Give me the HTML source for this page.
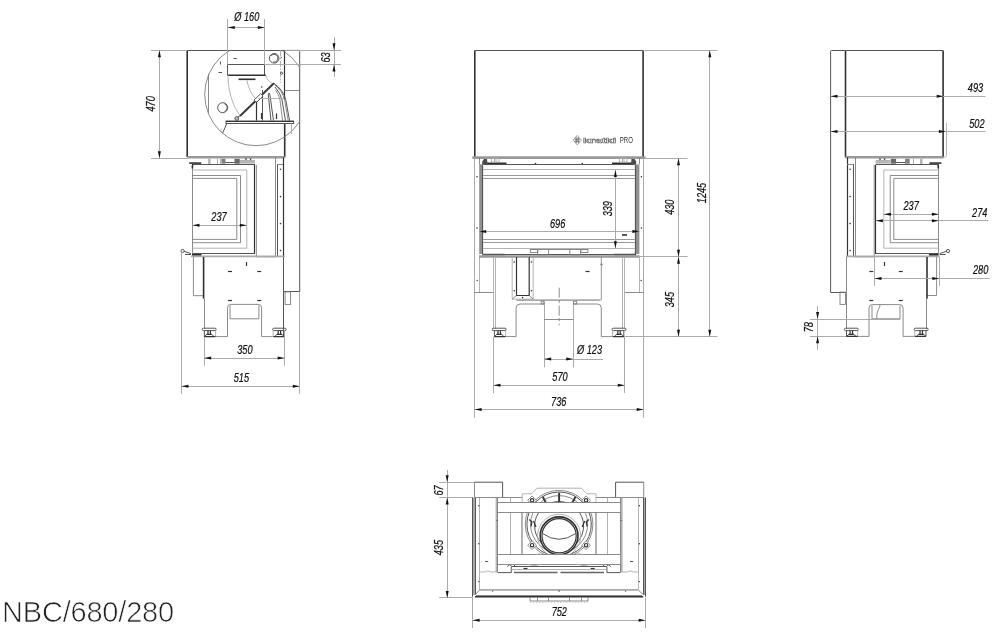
<!DOCTYPE html>
<html><head><meta charset="utf-8"><title>NBC/680/280</title>
<style>
html,body{margin:0;padding:0;background:#fff;}
body{width:999px;height:639px;overflow:hidden;position:relative;font-family:"Liberation Sans",sans-serif;}
svg{position:absolute;left:0;top:0;display:block;will-change:transform}
svg *{fill:none;stroke-linecap:butt}
.k{stroke:#303030;stroke-width:1.6}
.m{stroke:#555;stroke-width:1}
.t{stroke:#7e7e7e;stroke-width:.9}
.l{stroke:#aaa;stroke-width:.9}
.t2{stroke:#8c8c8c;stroke-width:.9}
.d{stroke:#a6a6a6;stroke-width:.95}
.g{stroke:#999;stroke-width:2.6}
.g2{stroke:#aaa;stroke-width:1.8}
svg .b{fill:#909090;stroke:none}
svg .b2{fill:#a8a8a8;stroke:none}
svg .b3{fill:#b4b4b4;stroke:none}
.k2{stroke:#333;stroke-width:1.2}
.k3{stroke:#3a3a3a;stroke-width:2}
.m2{stroke:#666;stroke-width:1.4}
.l2{stroke:#ccc;stroke-width:.8;stroke-dasharray:1.5 1.5}
svg .a{fill:#111;stroke:none}
svg .n{fill:#111;stroke:#111;stroke-width:.22;font-family:"Liberation Sans",sans-serif;font-style:italic}
svg .f{fill:#333;stroke:none}
svg .w{fill:#fff}
.title{will-change:transform;position:absolute;left:2.1px;top:595.3px;font-size:29px;line-height:34px;color:#222;letter-spacing:-0.2px;white-space:nowrap;-webkit-text-stroke:.7px #fff;}
</style></head><body>
<svg width="999" height="639" viewBox="0 0 999 639">
<g id="left">
<path class="m" d="M284.7 50.4 L298.7 50.4 Q299.7 50.4 299.7 51.4 L299.7 291.8"/>
<line class="m" x1="283.9" y1="291.5" x2="299.7" y2="291.5"/>
<rect class="t" x="285.1" y="291.9" width="5.5" height="12.5"/>
<line class="k" x1="187.2" y1="50.4" x2="187.2" y2="157.3"/>
<line class="m" x1="187.2" y1="50.5" x2="284.7" y2="50.5"/>
<line class="k2" x1="284.5" y1="50.4" x2="284.5" y2="99.0"/>
<line class="k" x1="284.7" y1="123.5" x2="284.7" y2="157.3"/>
<line class="g" x1="187.2" y1="157.3" x2="284.7" y2="157.3"/>
<clipPath id="cl"><rect x="187" y="50.2" width="112.7" height="110"/></clipPath>
<circle class="t" cx="256.0" cy="94.4" r="51.3" clip-path="url(#cl)"/>
<line class="t" x1="208.5" y1="73.7" x2="208.5" y2="112.9"/>
<path class="m" d="M227.5 75.0 L227.5 64.5 L264.5 64.5 L264.5 75.0"/>
<line class="k" x1="227.5" y1="75.3" x2="265.8" y2="75.3"/>
<circle class="m" cx="274.2" cy="58.3" r="4.8"/>
<path class="m" d="M271.2 55.6 A3.9 3.9 0 1 1 273.2 62.1"/>
<circle class="m" cx="222.7" cy="107.7" r="5.0"/>
<path class="m" d="M224.5 103.9 A4 4 0 0 1 224.5 111.5"/>
<path class="l" d="M227.8 75.3 Q228.5 100 239.8 115.5"/>
<path class="l" d="M247 80.5 Q249 92 255.5 98.5"/>
<path class="l" d="M265.8 75.3 Q266.5 80.5 272.5 83.5"/>
<line class="k3" x1="240.0" y1="116.0" x2="273.9" y2="83.2"/>
<polygon class="w m" points="254,100.1 260.6,93.7 263,96.1 256.4,102.5" style="fill:#fff"/>
<circle class="m" style="fill:#bbb" cx="236.8" cy="118.5" r="1.9"/>
<line class="m" x1="238.0" y1="117.0" x2="240.5" y2="115.5"/>
<line class="k2" x1="256.5" y1="101.5" x2="256.5" y2="120.7"/>
<line class="m" x1="262.5" y1="90.0" x2="262.5" y2="120.7"/>
<circle class="f" cx="261.8" cy="87.0" r="0.8"/>
<line class="k2" x1="261.5" y1="113.0" x2="261.5" y2="119.0"/>
<line class="k2" x1="276.5" y1="113.5" x2="276.5" y2="119.0"/>
<path class="m" d="M268.2 94 L271 120.7 M269.8 94 L273.5 120.7 M268.2 94 Q269 92.3 269.8 94"/>
<path class="m" d="M274 83.5 Q283.5 90 285.8 100 L289.6 120.7"/>
<path class="t" d="M274.6 84.8 Q282.5 91 284.6 100 L288.2 120.7"/>
<path class="m" d="M275 87 Q280.5 93 282 100 L285.5 120.7"/>
<path class="t" d="M275.6 90 Q279 95 280 100 L282.6 120.7"/>
<line class="l" x1="258.0" y1="98.5" x2="284.0" y2="98.5"/>
<line class="l" x1="280.5" y1="50.4" x2="280.5" y2="83" stroke-dasharray="6 1.5 1.5 1.5"/>
<line class="t" x1="284.7" y1="90.5" x2="299.7" y2="90.5"/>
<circle class="m" cx="281.6" cy="73.2" r="1.1"/>
<circle class="f" cx="281.3" cy="57.3" r="0.6"/>
<rect class="m" x="226.0" y="121.0" width="67.6" height="2.5"/>
<line class="k2" x1="226.0" y1="121.5" x2="293.6" y2="121.5"/>
<path class="m" d="M226.8 123.5 L222.6 133.2"/>
<path class="l" d="M222.6 133.2 L220.6 130.2 L221.8 128.8"/>
<line class="l" x1="291.5" y1="123.5" x2="291.5" y2="134.0"/>
<line class="m" x1="233.5" y1="58.5" x2="236.8" y2="58.5"/>
<line class="m" x1="220.5" y1="61.5" x2="220.5" y2="64.5"/>
<line class="m" x1="218.5" y1="72.5" x2="222.0" y2="72.5"/>
<line class="k" x1="238.5" y1="79.3" x2="255.5" y2="79.3"/>
<rect class="b3" x="208.1" y="158.5" width="2.5" height="5.5"/>
<line class="l" x1="217.5" y1="158.5" x2="217.5" y2="164.0"/>
<line class="l" x1="220.5" y1="158.5" x2="220.5" y2="164.0"/>
<rect x="221.4" y="158.8" width="4.1" height="4.9" style="fill:#808080;stroke:none"/>
<rect x="234.5" y="158.8" width="5.3" height="4.9" style="fill:#6a6a6a;stroke:none"/>
<rect x="240" y="160" width="15" height="3.6" style="fill:#b5b5b5;stroke:none"/>
<line class="m" x1="225.5" y1="162.5" x2="234.5" y2="162.5"/>
<path d="M244.8 158.6 h2.4 l-1.2 2 Z M249.4 158.6 h2.4 l-1.2 2 Z" style="fill:#333;stroke:none"/>
<line class="t" x1="192.5" y1="165.0" x2="192.5" y2="253.4"/>
<line class="m" x1="192.0" y1="164.5" x2="255.0" y2="164.5"/>
<path class="k" d="M192.4 168.5 L192.4 165.6 Q192.4 164.8 193.4 164.8"/>
<line class="k" x1="189.2" y1="163.1" x2="201.2" y2="163.1"/>
<line class="k2" x1="254.5" y1="164.8" x2="254.5" y2="254.0"/>
<path class="t" d="M256.4 165.0 L256.4 256.8 L276.5 256.8"/>
<path class="l" d="M192.5 170.0 L246.8 170.0 L246.8 248.2 L192.5 248.2"/>
<path class="t" d="M192.5 175.5 L240.5 175.5 L240.5 242.7 L192.5 242.7"/>
<path class="t" d="M192.5 178.4 L236.8 178.4 L236.8 239.4 L192.5 239.4"/>
<line class="d" x1="192.5" y1="225.5" x2="246.8" y2="225.5"/>
<polygon class="a" points="192.5,225.3 199.5,223.8 199.5,226.8"/>
<polygon class="a" points="246.8,225.3 239.8,226.8 239.8,223.8"/>
<text class="n" transform="translate(219.0 220.8) scale(0.73 1)" text-anchor="middle" font-size="12.6">237</text>
<line class="t" x1="275.5" y1="157.4" x2="275.5" y2="256.0"/>
<line class="m" x1="277.5" y1="164.1" x2="277.5" y2="256.0"/>
<line class="t" x1="277.3" y1="164.5" x2="283.6" y2="164.5"/>
<line class="k2" x1="283.5" y1="157.4" x2="283.5" y2="257.0"/>
<circle class="f" cx="280.5" cy="169.2" r="0.8"/>
<circle class="f" cx="280.5" cy="196.6" r="0.8"/>
<circle class="f" cx="280.5" cy="223.6" r="0.8"/>
<circle class="f" cx="280.5" cy="250.6" r="0.8"/>
<line class="m" x1="192.3" y1="253.5" x2="255.0" y2="253.5"/>
<line class="g2" x1="191.0" y1="256.3" x2="284.7" y2="256.3"/>
<line class="k" x1="192.0" y1="254.7" x2="201.5" y2="254.7"/>
<circle class="m" cx="182.6" cy="251.0" r="1.6"/>
<line class="m" x1="184.0" y1="251.3" x2="191.0" y2="253.6"/>
<line class="m" x1="185.0" y1="254.5" x2="191.0" y2="254.5"/>
<path class="t" d="M193.4 257.0 L193.4 295.7 L203.6 295.7"/>
<line class="k" x1="203.6" y1="257.0" x2="203.6" y2="298.7"/>
<line class="t" x1="204.5" y1="298.7" x2="204.5" y2="329.0"/>
<path class="t" d="M216 336.6 L227.5 336.6 L227.5 307.8 Q227.5 304.4 230.9 304.4 L258.2 304.4 Q261.6 304.4 261.6 307.8 L261.6 336.6 L272.6 336.6"/>
<path class="t" d="M230.0 305.5 L230.0 318.8 L258.9 318.8 L258.9 305.5"/>
<rect class="m" x="202.2" y="328.2" width="14.0" height="2.4" rx="1.2"/>
<path class="k2" d="M208.0 330.6 V333.8 M210.4 330.6 V333.8 M206.6 334.4 H211.8"/>
<path class="m" d="M207.4 333.8 L204.4 336.6 L214.0 336.6 L211.0 333.8"/>
<path class="m" d="M204.4 330.6 V336.6"/>
<path class="l" d="M215.6 330.6 V336.6"/>
<path class="k2" d="M204.4 336.6 H215.6"/>
<rect class="m" x="272.6" y="328.2" width="13.6" height="2.4" rx="1.2"/>
<path class="k2" d="M278.2 330.6 V333.8 M280.6 330.6 V333.8 M276.8 334.4 H282.0"/>
<path class="m" d="M277.6 333.8 L274.6 336.6 L284.2 336.6 L281.2 333.8"/>
<path class="m" d="M284.0 330.6 V336.6"/>
<path class="l" d="M273.2 330.6 V336.6"/>
<path class="k2" d="M273.2 336.6 H284.0"/>
<line class="m" x1="283.5" y1="257.0" x2="283.5" y2="336.6"/>
<line class="k2" x1="228.0" y1="271.5" x2="232.0" y2="271.5"/>
<line class="k2" x1="228.0" y1="300.5" x2="232.0" y2="300.5"/>
<line class="k2" x1="257.2" y1="271.5" x2="261.2" y2="271.5"/>
<line class="k2" x1="257.2" y1="300.5" x2="261.2" y2="300.5"/>
<line class="k2" x1="246.5" y1="262.0" x2="246.5" y2="266.0"/>
<line class="d" x1="204.5" y1="337.0" x2="204.5" y2="365.7"/>
<line class="d" x1="284.5" y1="330.0" x2="284.5" y2="365.7"/>
<line class="d" x1="204.2" y1="358.5" x2="284.6" y2="358.5"/>
<polygon class="a" points="204.2,358.1 211.2,356.6 211.2,359.6"/>
<polygon class="a" points="284.6,358.1 277.6,359.6 277.6,356.6"/>
<text class="n" transform="translate(244.9 354.0) scale(0.73 1)" text-anchor="middle" font-size="12.6">350</text>
<line class="d" x1="181.5" y1="252.5" x2="181.5" y2="393.8"/>
<line class="d" x1="299.5" y1="291.8" x2="299.5" y2="393.8"/>
<line class="d" x1="181.5" y1="386.5" x2="299.8" y2="386.5"/>
<polygon class="a" points="181.5,386.2 188.5,384.7 188.5,387.7"/>
<polygon class="a" points="299.8,386.2 292.8,387.7 292.8,384.7"/>
<text class="n" transform="translate(241.4 381.9) scale(0.73 1)" text-anchor="middle" font-size="12.6">515</text>
<line class="d" x1="227.5" y1="19.0" x2="227.5" y2="64.5"/>
<line class="d" x1="264.5" y1="19.0" x2="264.5" y2="64.5"/>
<line class="d" x1="227.8" y1="27.5" x2="264.8" y2="27.5"/>
<polygon class="a" points="227.8,27.6 234.8,26.1 234.8,29.1"/>
<polygon class="a" points="264.8,27.6 257.8,29.1 257.8,26.1"/>
<text class="n" transform="translate(246.8 20.6) scale(0.73 1)" text-anchor="middle" font-size="12.6">Ø 160</text>
<line class="d" x1="284.7" y1="50.5" x2="341.0" y2="50.5"/>
<line class="d" x1="264.8" y1="64.5" x2="341.0" y2="64.5"/>
<line class="d" x1="334.5" y1="37.0" x2="334.5" y2="77.0"/>
<polygon class="a" points="334.0,50.2 332.5,43.2 335.5,43.2"/>
<polygon class="a" points="334.0,64.5 335.5,71.5 332.5,71.5"/>
<text class="n" transform="translate(329.5 57.5) rotate(-90) scale(0.73 1)" text-anchor="middle" font-size="12.6">63</text>
<line class="d" x1="151.0" y1="50.5" x2="187.2" y2="50.5"/>
<line class="d" x1="151.0" y1="158.5" x2="187.2" y2="158.5"/>
<line class="d" x1="159.5" y1="50.2" x2="159.5" y2="158.2"/>
<polygon class="a" points="159.4,50.2 160.9,57.2 157.9,57.2"/>
<polygon class="a" points="159.4,158.2 157.9,151.2 160.9,151.2"/>
<text class="n" transform="translate(154.5 103.9) rotate(-90) scale(0.73 1)" text-anchor="middle" font-size="12.6">470</text>
</g>
<g id="mid">
<line class="k" x1="474.8" y1="50.4" x2="474.8" y2="157.6"/>
<line class="k" x1="643.1" y1="50.4" x2="643.1" y2="157.6"/>
<line class="m" x1="474.8" y1="50.5" x2="643.1" y2="50.5"/>
<line class="g" x1="472.4" y1="157.6" x2="645.6" y2="157.6"/>
<line class="d" x1="474.5" y1="157.8" x2="474.5" y2="417.6"/>
<line class="d" x1="643.5" y1="157.8" x2="643.5" y2="417.6"/>
<line class="l" x1="479.5" y1="256.5" x2="479.5" y2="292.5"/>
<line class="l" x1="639.5" y1="256.5" x2="639.5" y2="292.5"/>
<line class="t" x1="479.5" y1="158.0" x2="479.5" y2="164.4"/>
<line class="t" x1="639.5" y1="158.0" x2="639.5" y2="164.4"/>
<line class="t" x1="474.6" y1="292.5" x2="493.5" y2="292.5"/>
<line class="t" x1="624.5" y1="292.5" x2="643.7" y2="292.5"/>
<circle class="f" cx="477.0" cy="176.8" r="0.8"/>
<circle class="f" cx="477.0" cy="228.0" r="0.8"/>
<circle class="f" cx="641.4" cy="176.8" r="0.8"/>
<circle class="f" cx="641.4" cy="228.0" r="0.8"/>
<circle class="f" cx="477.2" cy="280.5" r="0.7"/>
<circle class="f" cx="641.2" cy="280.5" r="0.7"/>
<rect class="b" x="479.2" y="164.4" width="4.0" height="89.6"/>
<rect class="b" x="634.8" y="164.4" width="4.6" height="89.6"/>
<line class="m" x1="482.5" y1="164.4" x2="482.5" y2="254.0"/>
<line class="m" x1="635.5" y1="164.4" x2="635.5" y2="254.0"/>
<line class="m" x1="483.2" y1="164.5" x2="634.8" y2="164.5"/>
<line class="l" x1="483.2" y1="169.5" x2="634.8" y2="169.5"/>
<line class="t2" x1="483.2" y1="175.5" x2="634.8" y2="175.5"/>
<line class="t2" x1="483.2" y1="178.5" x2="634.8" y2="178.5"/>
<line class="t2" x1="483.2" y1="239.5" x2="634.8" y2="239.5"/>
<line class="t2" x1="483.2" y1="242.5" x2="634.8" y2="242.5"/>
<line class="l" x1="483.2" y1="248.5" x2="634.8" y2="248.5"/>
<line class="k" x1="482.5" y1="163.3" x2="506.5" y2="163.3"/>
<path d="M482.3 164 L482.3 161.5 L484.0 159 L487.0 159 L487.5 164 Z" style="fill:#4a4a4a;stroke:none"/>
<rect class="l" x="491.5" y="158.5" width="3.0" height="3.5"/>
<rect class="l" x="496.0" y="158.5" width="3.0" height="3.5"/>
<line class="k" x1="482.5" y1="254.6" x2="504.5" y2="254.6"/>
<line class="k" x1="636.0" y1="163.3" x2="612.0" y2="163.3"/>
<path d="M636.2 164 L636.2 161.5 L634.5 159 L631.5 159 L631.0 164 Z" style="fill:#4a4a4a;stroke:none"/>
<rect class="l" x="624.0" y="158.5" width="3.0" height="3.5"/>
<rect class="l" x="619.5" y="158.5" width="3.0" height="3.5"/>
<line class="k" x1="636.0" y1="254.6" x2="614.0" y2="254.6"/>
<circle class="f" cx="535.5" cy="163.6" r="0.8"/>
<circle class="f" cx="582.3" cy="163.6" r="0.8"/>
<line class="d" x1="479.2" y1="231.5" x2="639.4" y2="231.5"/>
<polygon class="a" points="479.2,231.4 486.2,229.9 486.2,232.9"/>
<polygon class="a" points="639.4,231.4 632.4,232.9 632.4,229.9"/>
<text class="n" transform="translate(557.6 227.5) scale(0.73 1)" text-anchor="middle" font-size="12.6">696</text>
<line class="d" x1="615.5" y1="170.0" x2="615.5" y2="248.2"/>
<polygon class="a" points="615.4,170.0 616.9,177.0 613.9,177.0"/>
<polygon class="a" points="615.4,248.2 613.9,241.2 616.9,241.2"/>
<text class="n" transform="translate(611.6 208.7) rotate(-90) scale(0.73 1)" text-anchor="middle" font-size="12.6">339</text>
<line class="k" x1="622.0" y1="235.0" x2="627.0" y2="235.0"/>
<line class="m" x1="483.0" y1="254.5" x2="635.0" y2="254.5"/>
<line class="g" x1="479.0" y1="256.5" x2="639.5" y2="256.5"/>
<rect class="t" x="530.3" y="249.5" width="7.2" height="3.0"/>
<path class="t" d="M537.8 249.5 L537.8 253.6 Q537.8 254.8 539 254.8 L547.4 254.8 Q548.6 254.8 548.6 253.6 L548.6 249.5"/>
<rect class="t" x="580.9" y="249.5" width="7.0" height="3.0"/>
<path class="t" d="M569.8 249.5 L569.8 253.6 Q569.8 254.8 571 254.8 L579.4 254.8 Q580.6 254.8 580.6 253.6 L580.6 249.5"/>
<line class="t" x1="530.3" y1="249.5" x2="588.0" y2="249.5"/>
<line class="d" x1="643.3" y1="50.5" x2="717.5" y2="50.5"/>
<line class="d" x1="645.6" y1="158.5" x2="687.5" y2="158.5"/>
<line class="d" x1="638.5" y1="256.5" x2="687.5" y2="256.5"/>
<line class="d" x1="624.5" y1="336.5" x2="717.5" y2="336.5"/>
<line class="d" x1="709.5" y1="50.2" x2="709.5" y2="336.8"/>
<polygon class="a" points="709.8,50.2 711.3,57.2 708.3,57.2"/>
<polygon class="a" points="709.8,336.8 708.3,329.8 711.3,329.8"/>
<text class="n" transform="translate(705.8 193.0) rotate(-90) scale(0.73 1)" text-anchor="middle" font-size="12.6">1245</text>
<line class="d" x1="678.5" y1="158.2" x2="678.5" y2="256.7"/>
<polygon class="a" points="678.5,158.2 680.0,165.2 677.0,165.2"/>
<polygon class="a" points="678.5,256.7 677.0,249.7 680.0,249.7"/>
<text class="n" transform="translate(674.0 207.2) rotate(-90) scale(0.73 1)" text-anchor="middle" font-size="12.6">430</text>
<line class="d" x1="678.5" y1="256.7" x2="678.5" y2="336.8"/>
<polygon class="a" points="678.5,256.7 680.0,263.7 677.0,263.7"/>
<polygon class="a" points="678.5,336.8 677.0,329.8 680.0,329.8"/>
<text class="n" transform="translate(674.0 299.6) rotate(-90) scale(0.73 1)" text-anchor="middle" font-size="12.6">345</text>
<line class="l" x1="493.5" y1="257.0" x2="493.5" y2="329.0"/>
<line class="l" x1="495.5" y1="257.0" x2="495.5" y2="329.0"/>
<line class="l" x1="624.5" y1="257.0" x2="624.5" y2="329.0"/>
<line class="l" x1="622.5" y1="257.0" x2="622.5" y2="329.0"/>
<rect class="m" x="492.2" y="328.2" width="14.0" height="2.4" rx="1.2"/>
<path class="k2" d="M498.0 330.6 V333.8 M500.4 330.6 V333.8 M496.6 334.4 H501.8"/>
<path class="m" d="M497.4 333.8 L494.4 336.6 L504.0 336.6 L501.0 333.8"/>
<path class="m" d="M494.4 330.6 V336.6"/>
<path class="l" d="M505.6 330.6 V336.6"/>
<path class="k2" d="M494.4 336.6 H505.6"/>
<rect class="m" x="612.0" y="328.2" width="14.0" height="2.4" rx="1.2"/>
<path class="k2" d="M617.8 330.6 V333.8 M620.2 330.6 V333.8 M616.4 334.4 H621.6"/>
<path class="m" d="M617.2 333.8 L614.2 336.6 L623.8 336.6 L620.8 333.8"/>
<path class="m" d="M623.8 330.6 V336.6"/>
<path class="l" d="M612.6 330.6 V336.6"/>
<path class="k2" d="M612.6 336.6 H623.8"/>
<path class="t" d="M506 336.6 L516.1 336.6 L516.1 308 Q516.1 304 520.1 304 L544.2 304"/>
<path class="t" d="M573.2 304 L597.3 304 Q601.3 304 601.3 308 L601.3 336.6 L612 336.6"/>
<path class="l" d="M512.2 257.0 L512.2 299.2 L533.2 299.2 L533.2 257.0"/>
<path class="k2" d="M516.5 257.0 L516.5 295.5 L529.2 295.5 L529.2 257.0"/>
<path class="t" d="M512.2 299.2 L516.5 295.5"/>
<path class="t" d="M533.2 299.2 L529.2 295.5"/>
<circle class="f" cx="514.2" cy="262.0" r="0.8"/>
<circle class="f" cx="531.4" cy="262.0" r="0.8"/>
<circle class="f" cx="514.2" cy="290.7" r="0.8"/>
<circle class="f" cx="531.4" cy="290.7" r="0.8"/>
<circle class="f" cx="522.6" cy="297.6" r="0.8"/>
<path class="t2" d="M601.3 257.0 L601.3 300.0"/>
<line class="g2" x1="516.5" y1="300.2" x2="600.7" y2="300.2"/>
<line class="k2" x1="585.5" y1="271.5" x2="589.5" y2="271.5"/>
<circle class="t" cx="601.5" cy="264.5" r="0.8"/>
<line class="d" x1="544.5" y1="301.2" x2="544.5" y2="367.4"/>
<line class="d" x1="573.5" y1="301.2" x2="573.5" y2="367.4"/>
<line class="t" x1="544.2" y1="319.5" x2="573.2" y2="319.5"/>
<rect class="t" x="541.2" y="301.2" width="2.6" height="2.8"/>
<rect class="t" x="573.6" y="301.2" width="3.1" height="2.8"/>
<path class="t" d="M559.2 287.7 L559.2 325.2" stroke-dasharray="10 2.5 3 2.5"/>
<line class="d" x1="573.2" y1="359.5" x2="603.0" y2="359.5"/>
<line class="d" x1="544.2" y1="359.5" x2="573.2" y2="359.5"/>
<polygon class="a" points="544.2,359.0 551.2,357.5 551.2,360.5"/>
<polygon class="a" points="573.2,359.0 566.2,360.5 566.2,357.5"/>
<text class="n" transform="translate(589.5 353.6) scale(0.73 1)" text-anchor="middle" font-size="12.6">Ø 123</text>
<line class="d" x1="493.5" y1="336.8" x2="493.5" y2="393.0"/>
<line class="d" x1="624.5" y1="336.8" x2="624.5" y2="393.0"/>
<line class="d" x1="493.5" y1="385.5" x2="624.8" y2="385.5"/>
<polygon class="a" points="493.5,385.2 500.5,383.7 500.5,386.7"/>
<polygon class="a" points="624.8,385.2 617.8,386.7 617.8,383.7"/>
<text class="n" transform="translate(560.0 380.9) scale(0.73 1)" text-anchor="middle" font-size="12.6">570</text>
<line class="d" x1="474.6" y1="409.5" x2="643.7" y2="409.5"/>
<polygon class="a" points="474.6,409.6 481.6,408.1 481.6,411.1"/>
<polygon class="a" points="643.7,409.6 636.7,411.1 636.7,408.1"/>
<text class="n" transform="translate(558.7 405.6) scale(0.73 1)" text-anchor="middle" font-size="12.6">736</text>
<path class="t" d="M573 140.2 L577.2 135.4 L581.4 140.2 L577.2 144.8 Z" style="stroke:#777;stroke-width:.7"/>
<path class="t" d="M576.2 137.2 V143.2 M578.2 137.2 V143.2 M574.6 139.2 H579.8 M574.6 141.2 H579.8" style="stroke:#444;stroke-width:.7"/>
<text x="583" y="142.8" font-size="7.4" font-weight="bold" font-family="Liberation Sans, sans-serif" textLength="33.2" lengthAdjust="spacingAndGlyphs" style="fill:#fff;stroke:#6a6a6a;stroke-width:.55">kratki</text>
<text x="619.8" y="143.2" font-size="8.4" font-family="Liberation Sans, sans-serif" textLength="13.2" lengthAdjust="spacingAndGlyphs" style="fill:#333;stroke:none">PRO</text>
</g>
<g id="right">
<path class="m" d="M830.6 292.1 L830.6 51.5 Q830.6 50.5 831.6 50.5 L845.5 50.5"/>
<line class="m" x1="830.5" y1="292.5" x2="846.5" y2="292.5"/>
<rect class="t" x="840.0" y="292.1" width="5.5" height="12.3"/>
<line class="k" x1="845.5" y1="50.5" x2="845.5" y2="157.4"/>
<line class="k" x1="943.1" y1="50.5" x2="943.1" y2="157.4"/>
<line class="m" x1="845.5" y1="50.5" x2="943.1" y2="50.5"/>
<line class="g" x1="845.5" y1="157.3" x2="943.4" y2="157.3"/>
<line class="k2" x1="847.5" y1="157.4" x2="847.5" y2="257.0"/>
<path class="l" d="M946.5 123 L946.5 155.5 Q946.5 157.4 943.5 157.4"/>
<line class="d" x1="830.5" y1="96.5" x2="985.4" y2="96.5"/>
<polygon class="a" points="830.5,96.2 837.5,94.7 837.5,97.7"/>
<polygon class="a" points="943.7,96.2 936.7,97.7 936.7,94.7"/>
<text class="n" transform="translate(983.2 91.7) scale(0.73 1)" text-anchor="end" font-size="12.6">493</text>
<line class="d" x1="830.5" y1="131.5" x2="985.4" y2="131.5"/>
<polygon class="a" points="830.5,131.4 837.5,129.9 837.5,132.9"/>
<polygon class="a" points="945.9,131.4 938.9,132.9 938.9,129.9"/>
<text class="n" transform="translate(984.5 127.6) scale(0.73 1)" text-anchor="end" font-size="12.6">502</text>
<line class="t" x1="855.5" y1="157.4" x2="855.5" y2="256.0"/>
<line class="m" x1="853.5" y1="164.1" x2="853.5" y2="256.0"/>
<line class="t" x1="847.0" y1="164.5" x2="853.3" y2="164.5"/>
<circle class="f" cx="850.1" cy="169.2" r="0.8"/>
<circle class="f" cx="850.1" cy="196.6" r="0.8"/>
<circle class="f" cx="850.1" cy="223.6" r="0.8"/>
<circle class="f" cx="850.1" cy="250.6" r="0.8"/>
<rect class="b3" x="920.0" y="158.5" width="2.5" height="5.5"/>
<line class="l" x1="913.5" y1="158.5" x2="913.5" y2="164.0"/>
<line class="l" x1="909.5" y1="158.5" x2="909.5" y2="164.0"/>
<rect x="905.1" y="158.8" width="4.1" height="4.9" style="fill:#808080;stroke:none"/>
<rect x="890.8" y="158.8" width="5.3" height="4.9" style="fill:#6a6a6a;stroke:none"/>
<rect x="875.6" y="160" width="15" height="3.6" style="fill:#b5b5b5;stroke:none"/>
<line class="m" x1="896.1" y1="162.5" x2="905.1" y2="162.5"/>
<path d="M883.4 158.6 h2.4 l-1.2 2 Z M878.8 158.6 h2.4 l-1.2 2 Z" style="fill:#333;stroke:none"/>
<line class="t" x1="938.5" y1="165.0" x2="938.5" y2="253.4"/>
<line class="m" x1="875.8" y1="164.5" x2="938.6" y2="164.5"/>
<path class="k" d="M938.3 168.5 L938.3 165.6 Q938.3 164.8 937.3 164.8"/>
<line class="k" x1="929.4" y1="163.1" x2="941.4" y2="163.1"/>
<line class="k2" x1="875.5" y1="164.8" x2="875.5" y2="254.0"/>
<path class="t" d="M874.2 165.0 L874.2 256.8 L854.1 256.8"/>
<path class="l" d="M938.2 170.0 L883.8 170.0 L883.8 248.2 L938.2 248.2"/>
<path class="t" d="M938.2 175.5 L890.2 175.5 L890.2 242.7 L938.2 242.7"/>
<path class="t" d="M938.2 178.4 L893.8 178.4 L893.8 239.4 L938.2 239.4"/>
<line class="d" x1="883.8" y1="214.5" x2="938.9" y2="214.5"/>
<polygon class="a" points="883.8,214.2 890.8,212.7 890.8,215.7"/>
<polygon class="a" points="938.9,214.2 931.9,215.7 931.9,212.7"/>
<text class="n" transform="translate(911.1 210.2) scale(0.73 1)" text-anchor="middle" font-size="12.6">237</text>
<line class="d" x1="875.8" y1="220.5" x2="988.4" y2="220.5"/>
<polygon class="a" points="875.8,220.8 882.8,219.3 882.8,222.3"/>
<polygon class="a" points="938.9,220.8 931.9,222.3 931.9,219.3"/>
<text class="n" transform="translate(987.4 216.7) scale(0.73 1)" text-anchor="end" font-size="12.6">274</text>
<line class="m" x1="875.8" y1="253.5" x2="938.4" y2="253.5"/>
<line class="g2" x1="846.0" y1="256.3" x2="939.6" y2="256.3"/>
<line class="k" x1="929.0" y1="254.7" x2="938.6" y2="254.7"/>
<circle class="m" cx="948.0" cy="251.0" r="1.6"/>
<line class="m" x1="946.6" y1="251.3" x2="939.6" y2="253.6"/>
<line class="m" x1="945.6" y1="254.5" x2="939.6" y2="254.5"/>
<path class="t" d="M936.6 257.0 L936.6 295.5 L926.8 295.5"/>
<line class="k" x1="927.0" y1="257.0" x2="927.0" y2="298.7"/>
<line class="t" x1="926.5" y1="298.7" x2="926.5" y2="329.0"/>
<line class="t" x1="846.5" y1="257.0" x2="846.5" y2="329.0"/>
<path class="t" d="M857 336.4 L869 336.4 L869 308.1 Q869 304.6 872.4 304.6 L899.7 304.6 Q903.1 304.6 903.1 308.1 L903.1 336.4 L914.5 336.4"/>
<path class="t" d="M872.0 305.5 L872.0 318.8 L900.0 318.8 L900.0 305.5"/>
<path class="t" d="M880 304.6 Q880.3 306.5 878.3 309.5 Q876.6 312.5 876.6 318.6"/>
<rect class="m" x="844.3" y="328.2" width="14.0" height="2.4" rx="1.2"/>
<path class="k2" d="M850.1 330.6 V333.8 M852.5 330.6 V333.8 M848.7 334.4 H853.9"/>
<path class="m" d="M849.5 333.8 L846.5 336.4 L856.1 336.4 L853.1 333.8"/>
<path class="m" d="M846.5 330.6 V336.4"/>
<path class="l" d="M857.7 330.6 V336.4"/>
<path class="k2" d="M846.5 336.4 H857.7"/>
<rect class="m" x="914.2" y="328.2" width="14.0" height="2.4" rx="1.2"/>
<path class="k2" d="M920.0 330.6 V333.8 M922.4 330.6 V333.8 M918.6 334.4 H923.8"/>
<path class="m" d="M919.4 333.8 L916.4 336.4 L926.0 336.4 L923.0 333.8"/>
<path class="m" d="M926.0 330.6 V336.4"/>
<path class="l" d="M914.8 330.6 V336.4"/>
<path class="k2" d="M914.8 336.4 H926.0"/>
<line class="k2" x1="869.3" y1="271.5" x2="873.3" y2="271.5"/>
<line class="k2" x1="869.3" y1="300.5" x2="873.3" y2="300.5"/>
<line class="k2" x1="898.8" y1="271.5" x2="902.8" y2="271.5"/>
<line class="k2" x1="898.8" y1="300.5" x2="902.8" y2="300.5"/>
<line class="k2" x1="884.5" y1="262.0" x2="884.5" y2="266.0"/>
<line class="d" x1="874.5" y1="257.0" x2="874.5" y2="286.0"/>
<line class="d" x1="939.5" y1="257.0" x2="939.5" y2="286.0"/>
<line class="d" x1="874.5" y1="278.5" x2="989.4" y2="278.5"/>
<polygon class="a" points="874.5,278.5 881.5,277.0 881.5,280.0"/>
<polygon class="a" points="939.3,278.5 932.3,280.0 932.3,277.0"/>
<text class="n" transform="translate(988.3 274.1) scale(0.73 1)" text-anchor="end" font-size="12.6">280</text>
<line class="d" x1="810.0" y1="319.5" x2="900.2" y2="319.5"/>
<line class="d" x1="810.0" y1="336.5" x2="846.0" y2="336.5"/>
<line class="d" x1="817.5" y1="306.0" x2="817.5" y2="349.8"/>
<polygon class="a" points="817.6,319.0 816.1,312.0 819.1,312.0"/>
<polygon class="a" points="817.6,336.2 819.1,343.2 816.1,343.2"/>
<text class="n" transform="translate(813.0 327.2) rotate(-90) scale(0.73 1)" text-anchor="middle" font-size="12.6">78</text>
</g>
<g id="plan">
<line class="d" x1="439.2" y1="482.5" x2="474.5" y2="482.5"/>
<line class="d" x1="439.2" y1="497.5" x2="472.5" y2="497.5"/>
<line class="d" x1="439.2" y1="597.5" x2="472.5" y2="597.5"/>
<line class="d" x1="447.5" y1="469.8" x2="447.5" y2="597.9"/>
<polygon class="a" points="447.2,482.2 445.7,475.2 448.7,475.2"/>
<polygon class="a" points="447.2,497.5 448.7,504.5 445.7,504.5"/>
<polygon class="a" points="447.2,597.9 445.7,590.9 448.7,590.9"/>
<text class="n" transform="translate(443.3 490.4) rotate(-90) scale(0.73 1)" text-anchor="middle" font-size="12.6">67</text>
<text class="n" transform="translate(443.3 547.6) rotate(-90) scale(0.73 1)" text-anchor="middle" font-size="12.6">435</text>
<line class="d" x1="472.5" y1="597.5" x2="472.5" y2="628.0"/>
<line class="d" x1="645.5" y1="597.5" x2="645.5" y2="628.0"/>
<line class="d" x1="472.6" y1="620.5" x2="645.6" y2="620.5"/>
<polygon class="a" points="472.6,620.2 479.6,618.7 479.6,621.7"/>
<polygon class="a" points="645.6,620.2 638.6,621.7 638.6,618.7"/>
<text class="n" transform="translate(559.3 616.0) scale(0.73 1)" text-anchor="middle" font-size="12.6">752</text>
<rect class="b2" x="472.5" y="497.5" width="2.5" height="97.5"/>
<line class="m" x1="475.5" y1="497.5" x2="475.5" y2="594.6"/>
<line class="m" x1="472.5" y1="497.5" x2="472.5" y2="596.8"/>
<line class="t" x1="475.0" y1="594.6" x2="480.0" y2="589.9"/>
<line class="l" x1="479.5" y1="497.5" x2="479.5" y2="589.9"/>
<path class="t" d="M474.5 497.5 L474.5 482.2"/>
<path class="m" d="M474.5 482.2 L502.6 482.2 L502.6 497.5"/>
<rect class="b3" x="495.6" y="497.8" width="2.0" height="74.2"/>
<line class="t" x1="497.5" y1="497.8" x2="497.5" y2="572.0"/>
<line class="t" x1="474.5" y1="497.5" x2="522.2" y2="497.5"/>
<line class="l" x1="510.5" y1="497.6" x2="510.5" y2="502.8"/>
<line class="l" x1="510.5" y1="512.3" x2="510.5" y2="554.5"/>
<line class="l" x1="522.5" y1="512.3" x2="522.5" y2="554.5"/>
<line class="l" x1="521.5" y1="512.3" x2="521.5" y2="554.5"/>
<circle class="f" cx="478.8" cy="543.8" r="0.7"/>
<circle class="f" cx="478.8" cy="581.6" r="0.7"/>
<circle class="f" cx="492.6" cy="591.0" r="0.7"/>
<circle class="f" cx="478.8" cy="505.7" r="0.7"/>
<circle class="f" cx="497.0" cy="520.5" r="0.5"/>
<line class="m" x1="485.0" y1="561.5" x2="488.2" y2="561.5"/>
<path class="l" d="M480.0 572 L485.0 572 L486.5 571.2 L489.0 571.2 L490.5 572 L497.0 572"/>
<path class="m" d="M497.6 572.6 L511.3 572.6 L511.3 566.8"/>
<path class="m" d="M507.4 566.6 L509.3 564.8 L511.3 565.6"/>
<path class="l" d="M522.2 502.8 L522.2 493.8 L531.5 493.8 L537.0 488.2 L559.1 488.2"/>
<rect class="b2" x="643.2" y="497.5" width="2.5" height="97.5"/>
<line class="m" x1="643.5" y1="497.5" x2="643.5" y2="594.6"/>
<line class="m" x1="645.5" y1="497.5" x2="645.5" y2="596.8"/>
<line class="t" x1="643.2" y1="594.6" x2="638.2" y2="589.9"/>
<line class="l" x1="638.5" y1="497.5" x2="638.5" y2="589.9"/>
<path class="t" d="M643.7 497.5 L643.7 482.2"/>
<path class="m" d="M643.7 482.2 L615.6 482.2 L615.6 497.5"/>
<rect class="b3" x="620.6" y="497.8" width="2.0" height="74.2"/>
<line class="t" x1="620.5" y1="497.8" x2="620.5" y2="572.0"/>
<line class="t" x1="643.7" y1="497.5" x2="596.0" y2="497.5"/>
<line class="l" x1="607.5" y1="497.6" x2="607.5" y2="502.8"/>
<line class="l" x1="607.5" y1="512.3" x2="607.5" y2="554.5"/>
<line class="l" x1="595.5" y1="512.3" x2="595.5" y2="554.5"/>
<line class="l" x1="596.5" y1="512.3" x2="596.5" y2="554.5"/>
<circle class="f" cx="639.4" cy="543.8" r="0.7"/>
<circle class="f" cx="639.4" cy="581.6" r="0.7"/>
<circle class="f" cx="625.6" cy="591.0" r="0.7"/>
<circle class="f" cx="639.4" cy="505.7" r="0.7"/>
<circle class="f" cx="621.2" cy="520.5" r="0.5"/>
<line class="m" x1="633.2" y1="561.5" x2="630.0" y2="561.5"/>
<path class="l" d="M638.2 572 L633.2 572 L631.7 571.2 L629.2 571.2 L627.7 572 L621.2 572"/>
<path class="m" d="M620.6 572.6 L606.9 572.6 L606.9 566.8"/>
<path class="m" d="M610.8 566.6 L608.9 564.8 L606.9 565.6"/>
<path class="l" d="M596.0 502.8 L596.0 493.8 L586.7 493.8 L581.2 488.2 L559.1 488.2"/>
<clipPath id="cp1"><rect x="500" y="486" width="120" height="16.9"/><rect x="500" y="512.3" width="120" height="42.2"/></clipPath>
<g clip-path="url(#cp1)">
<circle class="t" cx="559.1" cy="524.2" r="33.8"/>
<circle class="m" cx="559.1" cy="524.2" r="32.2"/>
<circle class="t" cx="559.1" cy="524.2" r="28.6"/>
<circle class="m" cx="559.1" cy="526.0" r="24.5"/>
</g>
<clipPath id="cp2"><rect x="500" y="512.3" width="120" height="42.2"/></clipPath>
<g clip-path="url(#cp2)">
<circle class="l" cx="559.1" cy="535.8" r="21.5"/>
<circle class="k" style="fill:#fff" cx="559.1" cy="535.8" r="18.9"/>
<circle class="k2" cx="559.1" cy="535.8" r="17.1"/>
<path class="m" d="M542.5 533.5 Q559.1 545 575.7 533.5"/>
</g>
<path class="t" style="fill:#fff" d="M527.7 500.3 L532.1 495.9 L536.5 500.3 L532.1 504.7 Z"/>
<circle class="k2" cx="532.1" cy="500.3" r="1.7"/>
<path class="t" style="fill:#fff" d="M527.7 545.2 L532.1 540.8 L536.5 545.2 L532.1 549.6 Z"/>
<circle class="k2" cx="532.1" cy="545.2" r="1.7"/>
<path class="k2" d="M529.3 519.5 L532.0 522 L531.0 526.5 M533.5 521 L536.0 527"/>
<path class="k3" d="M542.8 497 L545.8 502.5"/>
<path class="t" style="fill:#fff" d="M581.7 500.3 L586.1 495.9 L590.5 500.3 L586.1 504.7 Z"/>
<circle class="k2" cx="586.1" cy="500.3" r="1.7"/>
<path class="t" style="fill:#fff" d="M581.7 545.2 L586.1 540.8 L590.5 545.2 L586.1 549.6 Z"/>
<circle class="k2" cx="586.1" cy="545.2" r="1.7"/>
<path class="k2" d="M588.9 519.5 L586.2 522 L587.2 526.5 M584.7 521 L582.2 527"/>
<path class="k3" d="M575.4 497 L572.4 502.5"/>
<path class="k3" d="M559.1 492.8 L559.1 502.5"/>
<rect x="498.1" y="503" width="122" height="9.3" style="fill:#fff;stroke:none"/>
<rect x="498.1" y="554.6" width="122" height="9.6" style="fill:#fff;stroke:none"/>
<line class="t" x1="497.6" y1="502.5" x2="620.6" y2="502.5"/>
<line class="t" x1="497.6" y1="512.5" x2="620.6" y2="512.5"/>
<line class="t" x1="497.6" y1="554.5" x2="620.6" y2="554.5"/>
<line class="t" x1="497.6" y1="564.5" x2="620.6" y2="564.5"/>
<line class="m" x1="511.3" y1="566.5" x2="606.9" y2="566.5"/>
<line class="l" x1="511.3" y1="569.5" x2="606.9" y2="569.5"/>
<line class="m2" x1="514.0" y1="572.5" x2="557.5" y2="572.5"/>
<line class="m2" x1="560.5" y1="572.5" x2="604.0" y2="572.5"/>
<line class="k2" x1="523.5" y1="568.5" x2="527.5" y2="568.5"/>
<line class="k2" x1="590.7" y1="568.5" x2="594.7" y2="568.5"/>
<path class="l" d="M527 564.3 Q534 567 541 564.3 M577 564.3 Q584 567 591 564.3"/>
<path class="l" d="M536 554.5 Q539 553.2 542 554.5 M576 554.5 Q579 553.2 582 554.5"/>
<circle class="f" cx="514.5" cy="565.5" r="0.6"/>
<circle class="f" cx="603.7" cy="565.5" r="0.6"/>
<line class="g2" x1="480.0" y1="589.9" x2="638.2" y2="589.9"/>
<line class="k" x1="475.0" y1="596.8" x2="643.2" y2="596.8"/>
<line class="t" x1="476.0" y1="595.5" x2="642.0" y2="595.5"/>
<circle class="f" cx="559.1" cy="591.0" r="0.7"/>
<path class="t" d="M530.1 597.6 L530.1 601.0 L588.0 601.0 L588.0 597.6"/>
<line class="t" x1="537.5" y1="597.6" x2="537.5" y2="601.0"/>
<line class="t" x1="548.5" y1="597.6" x2="548.5" y2="601.0"/>
<line class="t" x1="569.5" y1="597.6" x2="569.5" y2="601.0"/>
<line class="t" x1="581.5" y1="597.6" x2="581.5" y2="601.0"/>
<line class="l2" x1="530.0" y1="602.5" x2="588.0" y2="602.5"/>
</g>
</svg>
<div class="title">NBC/680/280</div>
</body></html>
